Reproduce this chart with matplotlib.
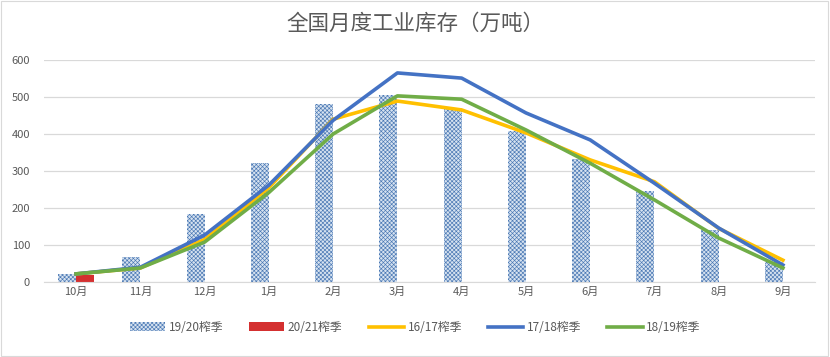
import numpy as np
import matplotlib.pyplot as plt
from matplotlib.patches import Rectangle

plt.rcParams['font.family'] = ['Noto Sans CJK SC', 'DejaVu Sans']
plt.rcParams['hatch.linewidth'] = 0.45

months = ["10月", "11月", "12月", "1月", "2月", "3月", "4月", "5月", "6月", "7月", "8月", "9月"]
bar_1920 = [23, 68, 184, 321, 480, 505, 469, 409, 333, 246, 140, 55]
bar_2021 = [19]
line_1617 = [22, 38, 115, 255, 440, 489, 465, 403, 330, 271, 145, 59]
line_1718 = [22, 40, 127, 262, 437, 565, 551, 457, 384, 267, 146, 46]
line_1819 = [22, 38, 108, 242, 400, 503, 494, 411, 321, 222, 119, 38]

TXT = "#595959"

fig = plt.figure(figsize=(8.3, 3.57), dpi=100)
ax = fig.add_axes([0.053, 0.21, 0.929, 0.622])

x = np.arange(len(months))
w = 0.28
h1 = ax.bar(x - w / 2, bar_1920, width=w, facecolor="#d6e2f0", edgecolor="#4a78b4",
            hatch="xxxxxxxx", linewidth=0, label="19/20榨季", zorder=2)
h2 = ax.bar(x[:len(bar_2021)] + w / 2, bar_2021, width=w, color="#d43030",
            linewidth=0, label="20/21榨季", zorder=2)
l1, = ax.plot(x, line_1617, color="#FFC000", linewidth=2.6, label="16/17榨季", zorder=3)
l2, = ax.plot(x, line_1718, color="#4472C4", linewidth=2.6, label="17/18榨季", zorder=4)
l3, = ax.plot(x, line_1819, color="#70AD47", linewidth=2.6, label="18/19榨季", zorder=5)

ax.set_xlim(-0.5, len(months) - 0.5)
ax.set_ylim(0, 600)
ax.set_yticks(range(0, 601, 100))
ax.set_xticks(x)
ax.set_xticklabels(months)
ax.tick_params(axis="both", colors=TXT, labelsize=8, length=0)
ax.tick_params(axis="y", pad=10)
ax.grid(axis="y", color="#d9d9d9", linewidth=0.9, zorder=0)
ax.set_axisbelow(True)
for s in ["top", "right", "left"]:
    ax.spines[s].set_visible(False)
ax.spines["bottom"].set_color("#d9d9d9")

fig.text(0.5, 0.932, "全国月度工业库存（万吨）", ha="center", va="center",
         fontsize=15.5, color=TXT)

fig.legend(handles=[h1, h2, l1, l2, l3], loc="center", bbox_to_anchor=(0.5, 0.083),
           ncol=5, frameon=False, fontsize=8.5, labelcolor=TXT, handlelength=3.0,
           handleheight=0.8, columnspacing=2.2, handletextpad=0.3)

fig.patches.append(Rectangle((0.001, 0.002), 0.997, 0.995, transform=fig.transFigure,
                             fill=False, edgecolor="#d9d9d9", linewidth=0.8))

fig.savefig("out.png", dpi=100)
